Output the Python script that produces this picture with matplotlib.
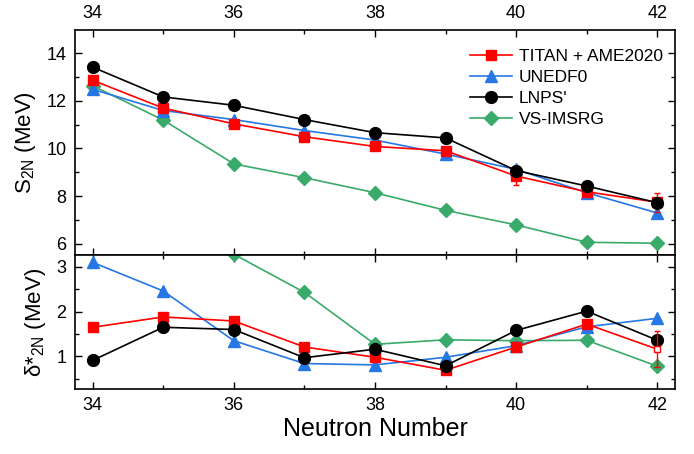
import numpy as np
import matplotlib.pyplot as plt
from matplotlib.ticker import MultipleLocator

plt.rcParams['font.family'] = ['Liberation Sans', 'DejaVu Sans']
plt.rcParams['mathtext.fontset'] = 'custom'
plt.rcParams['mathtext.rm'] = 'Liberation Sans'
plt.rcParams['mathtext.it'] = 'Liberation Sans:italic'

# neutron numbers
n = [34, 35, 36, 37, 38, 39, 40, 41, 42]

# two-neutron separation energies S2N (MeV)
s2n_titan = [12.86, 11.69, 11.03, 10.49, 10.08, 9.90, 8.84, 8.18, 7.74]
s2n_titan_err = [0.05, 0.05, 0.05, 0.05, 0.05, 0.1, 0.38, 0.08, 0.4]
s2n_unedf = [12.48, 11.59, 11.21, 10.75, 10.35, 9.76, 9.12, 8.14, 7.29]
s2n_lnps = [13.41, 12.16, 11.81, 11.21, 10.66, 10.44, 9.07, 8.42, 7.72]
s2n_vs = [12.63, 11.19, 9.35, 8.77, 8.14, 7.40, 6.79, 6.06, 6.02]

# empirical shell gap delta*2N (MeV)
d_titan = [1.65, 1.88, 1.79, 1.21, 0.98, 0.69, 1.21, 1.72]
d_titan_err = [0.04, 0.04, 0.04, 0.04, 0.04, 0.06, 0.1, 0.08]
d_titan_last = 1.16
d_titan_last_err = 0.4
d_unedf = [3.10, 2.46, 1.35, 0.84, 0.81, 0.98, 1.24, 1.66, 1.85]
d_lnps = [0.91, 1.65, 1.60, 0.97, 1.16, 0.79, 1.58, 2.01, 1.36]
n_vs = [36, 37, 38, 39, 40, 41, 42]
d_vs = [3.28, 2.43, 1.27, 1.37, 1.35, 1.36, 0.78]

red = '#ff0000'
blue = '#2577e3'
green = '#3aaa6a'

fig = plt.figure(figsize=(6.94, 4.54), dpi=100)
ax1 = fig.add_axes([0.108, 0.438, 0.8646, 0.496])
ax2 = fig.add_axes([0.108, 0.143, 0.8646, 0.295], sharex=ax1)

# top panel
ax1.plot(n, s2n_titan, color=red, marker='s', ms=7, lw=1.2, label='TITAN + AME2020', zorder=4)
ax1.errorbar(n, s2n_titan, yerr=s2n_titan_err, fmt='none', ecolor=red,
             capsize=2, elinewidth=1, zorder=4)
ax1.plot(n, s2n_unedf, color=blue, marker='^', ms=8, lw=1.2, label='UNEDF0', zorder=3)
ax1.plot(n, s2n_lnps, color='black', marker='o', ms=8.5, lw=1.2, label="LNPS'", zorder=5)
ax1.plot(n, s2n_vs, color=green, marker='D', ms=7, lw=1.2, label='VS-IMSRG', zorder=2)

ax1.set_ylim(5.52, 14.97)
ax1.set_ylabel(r'S$_{\mathrm{2N}}$ (MeV)', fontsize=16, labelpad=6)
ax1.yaxis.set_major_locator(MultipleLocator(2))
ax1.yaxis.set_minor_locator(MultipleLocator(1))
ax1.legend(loc='upper right', bbox_to_anchor=(1.0, 0.969), frameon=False, fontsize=12.5,
           handlelength=2.4, labelspacing=0.33, borderaxespad=0.3, handletextpad=0.4)

# bottom panel
ax2.errorbar(n[:-1], d_titan, yerr=d_titan_err, color=red, marker='s', ms=7,
             lw=1.2, capsize=2, elinewidth=1, zorder=4)
ax2.plot(n[-2:], [d_titan[-1], d_titan_last], color=red, lw=1.2, zorder=4)
ax2.errorbar([n[-1]], [d_titan_last], yerr=[d_titan_last_err], color=red, marker='s',
             ms=5, mfc='white', mec=red, capsize=2, elinewidth=1, zorder=6)
ax2.plot(n, d_unedf, color=blue, marker='^', ms=8, lw=1.2, zorder=3)
ax2.plot(n, d_lnps, color='black', marker='o', ms=8.5, lw=1.2, zorder=5)
ax2.plot(n_vs, d_vs, color=green, marker='D', ms=7, lw=1.2, zorder=2)

ax2.set_ylim(0.27, 3.26)
ax2.set_ylabel(r'δ*$_{\mathrm{2N}}$ (MeV)', fontsize=16, labelpad=6)
ax2.yaxis.set_major_locator(MultipleLocator(1))
ax2.yaxis.set_minor_locator(MultipleLocator(0.5))
ax2.set_xlabel('Neutron Number', fontsize=18, labelpad=2)

ax1.set_xlim(33.75, 42.25)
ax1.xaxis.set_major_locator(MultipleLocator(2))
ax1.xaxis.set_minor_locator(MultipleLocator(1))

for ax in (ax1, ax2):
    ax.tick_params(which='both', direction='in', top=True, right=True, labelsize=13)
    ax.tick_params(which='major', length=5, width=1, pad=6)
    ax.tick_params(which='minor', length=3, width=1)
    for sp in ax.spines.values():
        sp.set_linewidth(1.2)

ax1.tick_params(labeltop=True, labelbottom=False)
ax2.tick_params(labeltop=False)

fig.savefig('out.png', dpi=100)
